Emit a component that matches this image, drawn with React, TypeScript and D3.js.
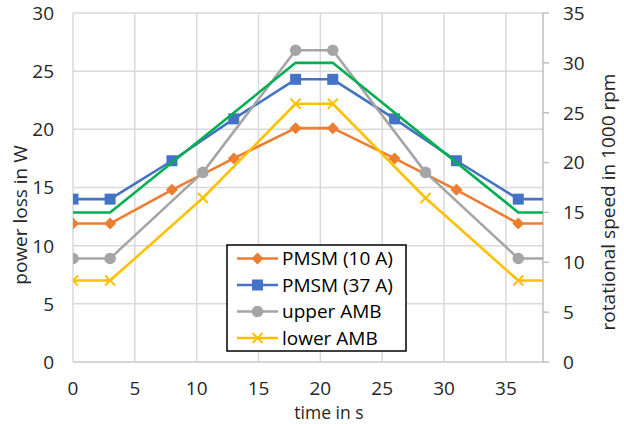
import React from "react";
import * as d3 from "d3";

// time points (s)
const timeMain = [0, 3, 8, 13, 18, 21, 26, 31, 36, 39];
const timeAmb = [0, 3, 10.5, 18, 21, 28.5, 36, 39];
const timeSpeed = [0, 3, 18, 21, 36, 39];

// power loss in W
const pmsm10 = [11.9, 11.9, 14.8, 17.5, 20.1, 20.1, 17.5, 14.8, 11.9, 11.9];
const pmsm37 = [14, 14, 17.3, 20.9, 24.3, 24.3, 20.9, 17.3, 14, 14];
const upperAmb = [8.9, 8.9, 16.3, 26.8, 26.8, 16.3, 8.9, 8.9];
const lowerAmb = [7, 7, 14.1, 22.2, 22.2, 14.1, 7, 7];
// rotational speed in 1000 rpm
const speed = [15, 15, 30, 30, 15, 15];

const xTicks = [0, 5, 10, 15, 20, 25, 30, 35];
const yTicks = [0, 5, 10, 15, 20, 25, 30];
const y2Ticks = [0, 5, 10, 15, 20, 25, 30, 35];

const legendNames = ["PMSM (10 A)", "PMSM (37 A)", "upper AMB", "lower AMB"];

const W = 624;
const H = 424;
const margin = { left: 73, right: 81, top: 13, bottom: 62 };
const FONT = "'Open Sans', sans-serif";

type Marker = "diamond" | "square" | "circle" | "x" | "none";

function MarkerShape({ kind, cx, cy, color }: { kind: Marker; cx: number; cy: number; color: string }) {
  if (kind === "diamond") {
    const s = 6;
    return <path d={`M${cx},${cy - s}L${cx + s},${cy}L${cx},${cy + s}L${cx - s},${cy}Z`} fill={color} />;
  }
  if (kind === "square") {
    return <rect x={cx - 5.5} y={cy - 5.5} width={11} height={11} fill={color} />;
  }
  if (kind === "circle") {
    return <circle cx={cx} cy={cy} r={5.8} fill={color} />;
  }
  if (kind === "x") {
    const s = 5;
    return (
      <path d={`M${cx - s},${cy - s}L${cx + s},${cy + s}M${cx - s},${cy + s}L${cx + s},${cy - s}`}
        stroke={color} strokeWidth={2} fill="none" />
    );
  }
  return null;
}

export default function App() {
  const plotW = W - margin.left - margin.right;
  const plotH = H - margin.top - margin.bottom;
  const x = d3.scaleLinear().domain([0, 38]).range([margin.left, margin.left + plotW]);
  const y = d3.scaleLinear().domain([0, 30]).range([margin.top + plotH, margin.top]);
  const y2 = d3.scaleLinear().domain([0, 35]).range([margin.top + plotH, margin.top]);

  const series = [
    { name: legendNames[0], t: timeMain, v: pmsm10, color: "#ED7D31", marker: "diamond" as Marker, scale: y },
    { name: legendNames[1], t: timeMain, v: pmsm37, color: "#4472C4", marker: "square" as Marker, scale: y },
    { name: legendNames[2], t: timeAmb, v: upperAmb, color: "#A5A5A5", marker: "circle" as Marker, scale: y },
    { name: legendNames[3], t: timeAmb, v: lowerAmb, color: "#FFC000", marker: "x" as Marker, scale: y },
    { name: "speed", t: timeSpeed, v: speed, color: "#00B050", marker: "none" as Marker, scale: y2 },
  ];

  const x0 = margin.left;
  const x1 = margin.left + plotW;
  const yb = margin.top + plotH;
  const textColor = "#262626";

  const lx = 227;
  const ly = 245;
  const rowH = 26.5;

  return (
    <svg width={W} height={H} style={{ position: "absolute", left: 0, top: 0, background: "#fff" }}
      fontFamily={FONT}>
      <defs>
        <clipPath id="plotClip">
          <rect x={x0} y={margin.top - 10} width={plotW} height={plotH + 20} />
        </clipPath>
      </defs>
      {/* gridlines */}
      {yTicks.map((t) => (
        <line key={"gy" + t} x1={x0} x2={x1} y1={y(t)} y2={y(t)} stroke="#d9d9d9" strokeWidth={1.5} />
      ))}
      {xTicks.map((t) => (
        <line key={"gx" + t} x1={x(t)} x2={x(t)} y1={margin.top} y2={yb} stroke="#d9d9d9" strokeWidth={1.5} />
      ))}
      {/* axes */}
      <line x1={x0} x2={x1} y1={yb} y2={yb} stroke="#d0d0d0" strokeWidth={1.5} />
      <line x1={x1} x2={x1} y1={margin.top} y2={yb} stroke="#bfbfbf" strokeWidth={1.5} />
      {y2Ticks.map((t) => (
        <line key={"t2" + t} x1={x1} x2={x1 + 6} y1={y2(t)} y2={y2(t)} stroke="#bfbfbf" strokeWidth={1.5} />
      ))}
      {/* tick labels */}
      {yTicks.map((t) => (
        <text key={"ly" + t} x={54} y={y(t)} dy="0.36em" textAnchor="end" fontSize={19} fill={textColor}>{t}</text>
      ))}
      {y2Ticks.map((t) => (
        <text key={"ly2" + t} x={563} y={y2(t)} dy="0.36em" textAnchor="start" fontSize={19} fill={textColor}>{t}</text>
      ))}
      {xTicks.map((t) => (
        <text key={"lx" + t} x={x(t)} y={395} textAnchor="middle" fontSize={19} fill={textColor}>{t}</text>
      ))}
      {/* axis titles */}
      <text x={329} y={419} textAnchor="middle" fontSize={17.5} fill={textColor}>time in s</text>
      <text transform={`translate(27,215) rotate(-90)`} textAnchor="middle" fontSize={19} fill={textColor}>power loss in W</text>
      <text transform={`translate(615,202) rotate(-90)`} textAnchor="middle" fontSize={19} fill={textColor}>rotational speed in 1000 rpm</text>
      {/* series */}
      <g clipPath="url(#plotClip)">
        {series.map((s) => {
          const pts: [number, number][] = s.t.map((t, i) => [x(t), s.scale(s.v[i])]);
          const line = d3.line();
          return (
            <g key={s.name}>
              <path d={line(pts) || ""} fill="none" stroke={s.color} strokeWidth={2.6} strokeLinejoin="round" />
              {pts.map((p, i) => (
                <MarkerShape key={i} kind={s.marker} cx={p[0]} cy={p[1]} color={s.color} />
              ))}
            </g>
          );
        })}
      </g>
      {/* legend */}
      <rect x={lx} y={ly} width={179} height={106} fill="#fff" stroke="#000" strokeWidth={1.5} />
      {series.slice(0, 4).map((s, i) => {
        const cy = ly + 13.5 + i * rowH;
        return (
          <g key={"lg" + i}>
            <line x1={lx + 10} x2={lx + 51} y1={cy} y2={cy} stroke={s.color} strokeWidth={2.6} />
            <MarkerShape kind={s.marker} cx={lx + 30.5} cy={cy} color={s.color} />
            <text x={lx + 55} y={cy} dy="0.36em" fontSize={19} fill="#000">{s.name}</text>
          </g>
        );
      })}
    </svg>
  );
}
